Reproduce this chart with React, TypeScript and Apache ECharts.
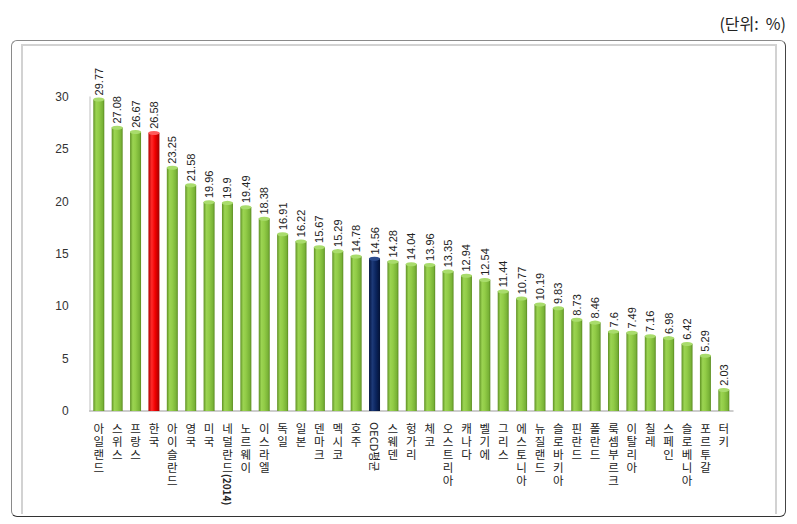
import React, { useEffect, useRef } from "react";
import * as echarts from "echarts";

const categories: string[] = [
  "아일랜드", "스위스", "프랑스", "한국", "아이슬란드", "영국", "미국", "네덜란드(2014)",
  "노르웨이", "이스라엘", "독일", "일본", "덴마크", "멕시코", "호주", "OECD평균",
  "스웨덴", "헝가리", "체코", "오스트리아", "캐나다", "벨기에", "그리스", "에스토니아",
  "뉴질랜드", "슬로바키아", "핀란드", "폴란드", "룩셈부르크", "이탈리아", "칠레", "스페인",
  "슬로베니아", "포르투갈", "터키",
];

const values: number[] = [
  29.77, 27.08, 26.67, 26.58, 23.25, 21.58, 19.96, 19.9,
  19.49, 18.38, 16.91, 16.22, 15.67, 15.29, 14.78, 14.56,
  14.28, 14.04, 13.96, 13.35, 12.94, 12.54, 11.44, 10.77,
  10.19, 9.83, 8.73, 8.46, 7.6, 7.49, 7.16, 6.98,
  6.42, 5.29, 2.03,
];

const yTicks = { min: 0, max: 30, interval: 5 };
const unitLabel = "(단위:  %)";

// labels whose latin part is written sideways: [upright part, sideways part]
const sidewaysParts: Record<string, [string, string]> = {
  "네덜란드(2014)": ["네덜란드", "(2014)"],
  "OECD평균": ["", "OECD평균"],
};

const koreaName = "한국";
const oecdName = "OECD평균";
const LINE_H = 13;

const grad = (stops: [number, string][]) =>
  new echarts.graphic.LinearGradient(0, 0, 1, 0, stops.map(([offset, color]) => ({ offset, color })));

const greenBody = () => grad([[0, "#5f9124"], [0.25, "#9bd452"], [0.5, "#92cc47"], [0.85, "#78b236"], [1, "#5a8a20"]]);
const redBody = () => grad([[0, "#b00000"], [0.3, "#ff2a2a"], [0.6, "#f20000"], [1, "#a00000"]]);
const navyBody = () => grad([[0, "#041540"], [0.3, "#1d3a78"], [0.6, "#0c2660"], [1, "#031236"]]);

export default function App() {
  const ref = useRef<HTMLDivElement>(null);

  useEffect(() => {
    document.body.style.margin = "0";
    if (!ref.current) return;
    const chart = echarts.init(ref.current, null, { renderer: "svg" });

    const barData = values.map((v, i) => {
      const name = categories[i];
      const color = name === koreaName ? redBody() : name === oecdName ? navyBody() : greenBody();
      return { value: v, itemStyle: { color } };
    });
    const capData = values.map((v, i) => {
      const name = categories[i];
      const color = name === koreaName ? "#ff5a5a" : name === oecdName ? "#2c4c8e" : "#a9dc6c";
      const border = name === koreaName ? "#b00000" : name === oecdName ? "#031236" : "#6a9a2c";
      return { value: v, itemStyle: { color, borderColor: border, borderWidth: 0.6 } };
    });

    chart.setOption({
      animation: false,
      title: {
        text: unitLabel,
        right: 6,
        top: 10,
        textStyle: { fontSize: 16, fontWeight: "normal", color: "#222", fontFamily: "Noto Sans CJK KR" },
      },
      grid: { left: 89.6, right: 64, top: 97, bottom: 113 },
      xAxis: {
        type: "category",
        data: categories,
        axisTick: { show: false },
        axisLine: { lineStyle: { color: "#bdbdbd", width: 1.5 } },
        axisLabel: {
          interval: 0,
          margin: 10,
          fontSize: 11.5,
          lineHeight: LINE_H,
          color: "#222",
          fontFamily: "Noto Sans CJK KR",
          verticalAlign: "top",
          formatter: (v: string) => {
            const s = sidewaysParts[v] ? sidewaysParts[v][0] : v;
            return s.split("").join("\n");
          },
        },
      },
      yAxis: {
        type: "value",
        min: yTicks.min,
        max: yTicks.max,
        interval: yTicks.interval,
        splitLine: { show: false },
        axisLine: { show: true, lineStyle: { color: "#d4d4d4", width: 1.5 } },
        axisTick: { show: false },
        axisLabel: { margin: 21, fontSize: 12, color: "#333", fontFamily: "Liberation Sans" },
      },
      series: [
        {
          type: "bar",
          data: barData,
          barWidth: 11,
          z: 2,
          label: {
            show: true,
            position: "top",
            rotate: 90,
            align: "left",
            verticalAlign: "middle",
            distance: 4,
            fontSize: 11,
            color: "#222",
            fontFamily: "Liberation Sans",
          },
        },
        {
          type: "pictorialBar",
          data: capData,
          symbol: "circle",
          symbolSize: [11, 4],
          symbolPosition: "end",
          symbolOffset: [0, "-50%"],
          z: 3,
          silent: true,
        },
      ],
    });

    const graphics: any[] = [];
    Object.keys(sidewaysParts).forEach((name) => {
      const [upright, side] = sidewaysParts[name];
      const x = chart.convertToPixel({ xAxisIndex: 0 }, name) as number;
      const y0 = chart.convertToPixel({ yAxisIndex: 0 }, 0) as number;
      const y = y0 + 11 + upright.length * LINE_H;
      const bold = name !== oecdName;
      graphics.push({
        type: "text",
        x: x + 0.5,
        y,
        rotation: -Math.PI / 2,
        style: {
          text: side,
          fontSize: bold ? 10 : 11,
          fontWeight: bold ? "bold" : "normal",
          fill: "#222",
          fontFamily: "Noto Sans CJK KR",
          align: "left",
          verticalAlign: "middle",
        },
      });
    });
    chart.setOption({ graphic: graphics });

    return () => chart.dispose();
  }, []);

  return (
    <div style={{ position: "relative", width: 797, height: 524, background: "#fff" }}>
      <div
        style={{
          position: "absolute",
          left: 11,
          top: 40,
          width: 773,
          height: 475,
          borderStyle: "solid",
          borderWidth: 1.5,
          borderColor: "#8a8a8a #444 #333 #8a8a8a",
          borderRadius: 6,
        }}
      />
      <div
        style={{
          position: "absolute",
          left: 21,
          top: 44,
          width: 752,
          height: 468,
          borderStyle: "solid",
          borderWidth: "2px 2px 0 2px",
          borderColor: "#d2d2d2",
        }}
      />
      <div ref={ref} style={{ position: "absolute", left: 0, top: 0, width: 797, height: 524 }} />
    </div>
  );
}
